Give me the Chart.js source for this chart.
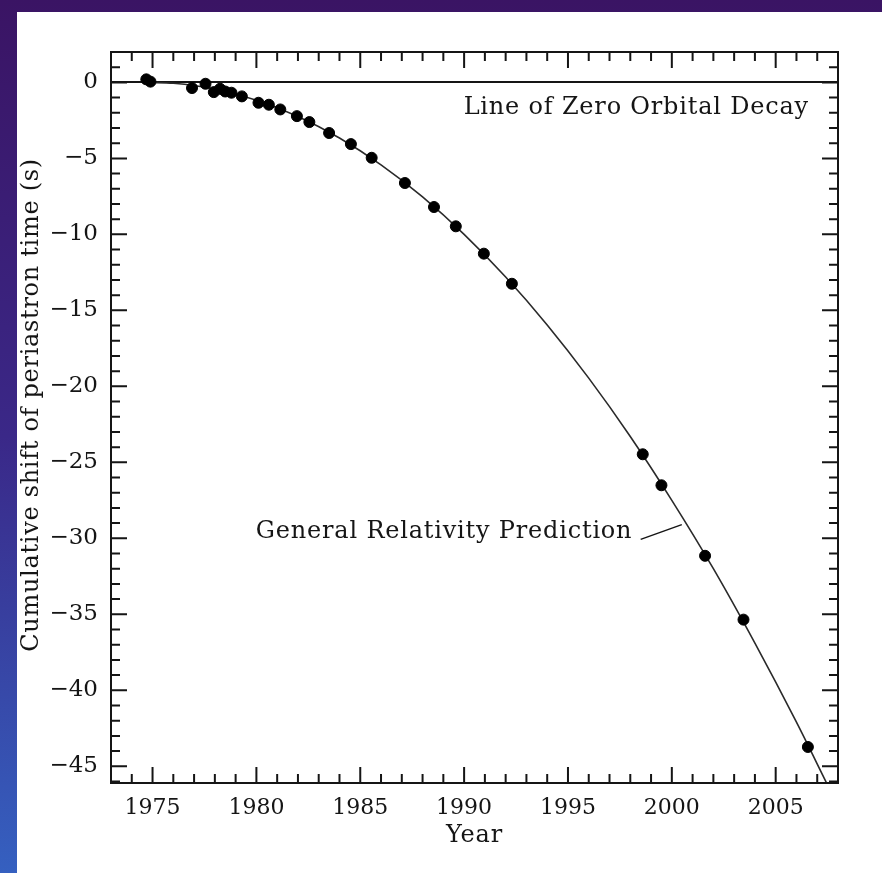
<!DOCTYPE html>
<html>
<head>
<meta charset="utf-8">
<script src="https://cdn.jsdelivr.net/npm/chart.js@4"></script>
<style>
html, body { margin: 0; padding: 0; background: #2e2a8a; }
#wrap { position: absolute; left: 0; top: 0; width: 882px; height: 873px; }
</style>
</head>
<body>
<div id="wrap"><canvas id="myChart" width="882" height="873"></canvas></div>
<script>
// measured timing points (year, cumulative shift in s)
const obsYears = [1974.7, 1974.9, 1976.9, 1977.55, 1977.95, 1978.25, 1978.5, 1978.8, 1979.3, 1980.1, 1980.6, 1981.15, 1981.95, 1982.55, 1983.5, 1984.55, 1985.55, 1987.15, 1988.55, 1989.6, 1990.95, 1992.3, 1998.6, 1999.5, 2001.6, 2003.45, 2006.55];
const obsShift = [0.2, 0.05, -0.37, -0.09, -0.64, -0.42, -0.6, -0.68, -0.92, -1.34, -1.47, -1.78, -2.22, -2.61, -3.33, -4.06, -4.96, -6.62, -8.2, -9.47, -11.27, -13.25, -24.47, -26.51, -31.15, -35.35, -43.73];

// general relativity curve
const grYears = [1974.8, 1976, 1978, 1980, 1982, 1984, 1986, 1988, 1990, 1992, 1994, 1996, 1998, 2000, 2002, 2004, 2006, 2007.45];
const grShift = [0, -0.06, -0.44, -1.17, -2.24, -3.66, -5.43, -7.54, -10.0, -12.81, -15.96, -19.46, -23.3, -27.5, -32.0, -36.9, -42.1, -46.1];

const xTicks = [1975, 1980, 1985, 1990, 1995, 2000, 2005];
const yTicks = [0, -5, -10, -15, -20, -25, -30, -35, -40, -45];

const fontFam = '"DejaVu Serif", serif';
const ink = "#151515";

const bgPlugin = {
  id: "bg",
  beforeDraw(chart) {
    const ctx = chart.ctx;
    const g = ctx.createLinearGradient(0, 0, 0, 873);
    g.addColorStop(0, "#3a1464");
    g.addColorStop(0.5, "#3a2888");
    g.addColorStop(1, "#3560c0");
    ctx.save();
    ctx.fillStyle = g;
    ctx.fillRect(0, 0, 882, 873);
    ctx.fillStyle = "#ffffff";
    ctx.fillRect(17, 12, 865, 861);
    ctx.restore();
  }
};

const framePlugin = {
  id: "frame",
  afterDatasetsDraw(chart) {
    const { ctx, chartArea: a, scales: { x, y } } = chart;
    ctx.save();
    ctx.strokeStyle = ink;
    ctx.lineWidth = 2;
    ctx.beginPath();
    for (let yr = Math.ceil(x.min); yr <= x.max; yr++) {
      const px = x.getPixelForValue(yr);
      const len = yr % 5 === 0 ? 16 : 9;
      ctx.moveTo(px, a.bottom); ctx.lineTo(px, a.bottom - len);
      ctx.moveTo(px, a.top); ctx.lineTo(px, a.top + len);
    }
    for (let v = Math.ceil(y.min); v <= y.max; v++) {
      const py = y.getPixelForValue(v);
      const len = v % 5 === 0 ? 16 : 9;
      ctx.moveTo(a.left, py); ctx.lineTo(a.left + len, py);
      ctx.moveTo(a.right, py); ctx.lineTo(a.right - len, py);
    }
    ctx.stroke();
    ctx.strokeRect(a.left, a.top, a.width, a.height);

    // labels, axis titles and the leader line
    ctx.fillStyle = ink;
    ctx.font = "24px " + fontFam;
    ctx.letterSpacing = "0.8px";
    ctx.textAlign = "right";
    ctx.textBaseline = "middle";
    ctx.fillText("Line of Zero Orbital Decay", x.getPixelForValue(2006.6), y.getPixelForValue(-1.64));
    ctx.fillText("General Relativity Prediction", x.getPixelForValue(1998.1), y.getPixelForValue(-29.6));
    ctx.textAlign = "center";
    ctx.fillText("Year", (a.left + a.right) / 2, 836);
    ctx.save();
    ctx.translate(32, 405);
    ctx.rotate(-Math.PI / 2);
    ctx.letterSpacing = "0.7px";
    ctx.fillText("Cumulative shift of periastron time (s)", 0, 0);
    ctx.restore();
    ctx.lineWidth = 1.5;
    ctx.beginPath();
    ctx.moveTo(x.getPixelForValue(1998.5), y.getPixelForValue(-30.07));
    ctx.lineTo(x.getPixelForValue(2000.48), y.getPixelForValue(-29.1));
    ctx.stroke();
    ctx.restore();
  }
};

new Chart("myChart", {
  type: "scatter",
  data: {
    datasets: [
      {
        label: "GR prediction",
        data: grYears.map((t, i) => ({ x: t, y: grShift[i] })),
        showLine: true,
        borderColor: "#2a2a2a",
        borderWidth: 1.6,
        pointRadius: 0,
        cubicInterpolationMode: "monotone",
        order: 2,
      },
      {
        label: "Observed",
        data: obsYears.map((t, i) => ({ x: t, y: obsShift[i] })),
        backgroundColor: "#000",
        borderColor: "#000",
        pointRadius: 5.5,
        order: 1,
      },
    ],
  },
  options: {
    responsive: false,
    animation: false,
    layout: { padding: { left: 0, top: 52, right: 44, bottom: 0 } },
    plugins: { legend: { display: false }, tooltip: { enabled: false } },
    scales: {
      x: {
        type: "linear",
        min: 1973,
        max: 2008,
        afterBuildTicks: (s) => { s.ticks = xTicks.map((v) => ({ value: v })); },
        afterFit: (s) => { s.height = 90; },
        grid: { display: false },
        border: { display: false },
        ticks: { color: ink, font: { family: fontFam, size: 22 }, padding: 4, maxRotation: 0, callback: (v) => String(v) },
        title: { display: false },
      },
      y: {
        type: "linear",
        min: -46.1,
        max: 2,
        afterBuildTicks: (s) => { s.ticks = yTicks.map((v) => ({ value: v })); },
        afterFit: (s) => { s.width = 111; },
        grid: {
          drawTicks: false,
          lineWidth: 2,
          color: (c) => (c.tick && c.tick.value === 0 ? ink : "rgba(0,0,0,0)"),
        },
        border: { display: false },
        ticks: {
          color: ink,
          font: { family: fontFam, size: 23 },
          padding: 13,
          callback: (v) => (v < 0 ? "\u2212" + Math.abs(v) : String(v)),
        },
        title: { display: false },
      },
    },
  },
  plugins: [bgPlugin, framePlugin],
});
</script>
</body>
</html>
